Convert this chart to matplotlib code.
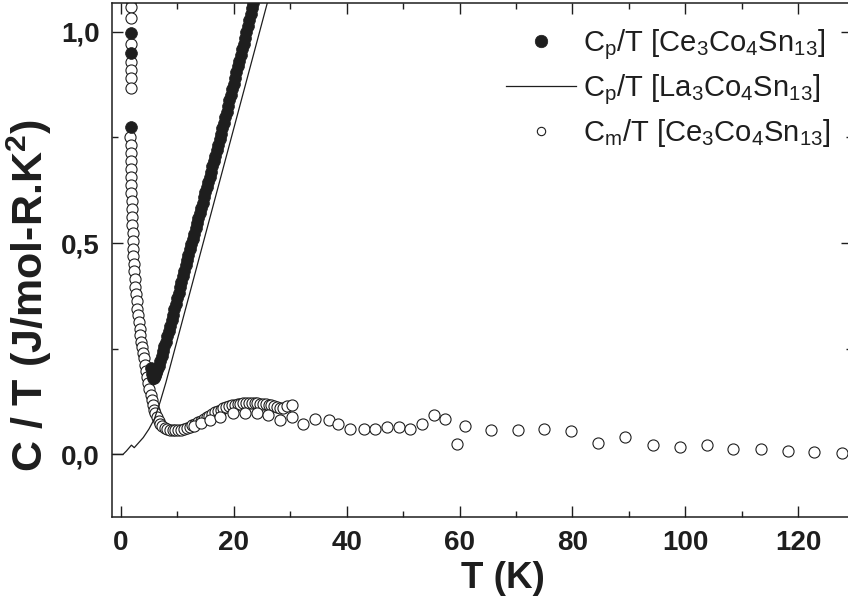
import numpy as np
import matplotlib
matplotlib.use('Agg')
import matplotlib.pyplot as plt
from matplotlib.ticker import MultipleLocator

plt.rcParams['font.family'] = ['Liberation Sans', 'DejaVu Sans']
plt.rcParams['mathtext.fontset'] = 'custom'
plt.rcParams['mathtext.rm'] = 'Liberation Sans'
plt.rcParams['mathtext.it'] = 'Liberation Sans:italic'
plt.rcParams['mathtext.bf'] = 'Liberation Sans:bold'

INK = '#1e1e1e'

# Cp/T of Ce3Co4Sn13 (filled circles)
t_ce = [1.8, 1.8, 1.8,
        5.3, 5.5, 5.7, 5.9, 6.1, 6.3, 6.5, 6.75, 7.0, 7.25, 7.5, 7.75, 8.0, 8.25, 8.5, 8.75,
        9.0, 9.25, 9.5, 9.75, 10.0, 10.25, 10.5, 10.75, 11.0, 11.25, 11.5, 11.75, 12.0,
        12.25, 12.5, 12.75, 13.0, 13.25, 13.5, 13.75, 14.0, 14.25, 14.5, 14.75, 15.0,
        15.25, 15.5, 15.75, 16.0, 16.25, 16.5, 16.75, 17.0, 17.25, 17.5, 17.75, 18.0,
        18.25, 18.5, 18.75, 19.0, 19.25, 19.5, 19.75, 20.0, 20.25, 20.5, 20.75, 21.0,
        21.25, 21.5, 21.75, 22.0, 22.25, 22.5, 22.75, 23.0, 23.25, 23.5, 23.75, 24.0]
cp_ce = [0.996, 0.949, 0.775,
         0.205, 0.190, 0.181, 0.181, 0.186, 0.192, 0.200, 0.210, 0.222, 0.233, 0.244, 0.256,
         0.267, 0.280, 0.292, 0.305, 0.317, 0.330, 0.343, 0.356, 0.370, 0.383, 0.396,
         0.409, 0.422, 0.435, 0.447, 0.460, 0.472, 0.485, 0.497, 0.510, 0.522, 0.535,
         0.547, 0.559, 0.571, 0.584, 0.596, 0.608, 0.620, 0.632, 0.644, 0.657, 0.669,
         0.682, 0.694, 0.707, 0.720, 0.733, 0.746, 0.759, 0.772, 0.785, 0.798, 0.811,
         0.824, 0.838, 0.851, 0.864, 0.877, 0.891, 0.904, 0.918, 0.931, 0.945, 0.958,
         0.972, 0.986, 0.999, 1.013, 1.027, 1.041, 1.055, 1.069, 1.083, 1.097]

# Cp/T of La3Co4Sn13 (line)
t_la = [-1.5, 0.4, 1.0, 1.9, 2.4, 3.0, 4.0, 5.0, 6.0, 7.0, 8.0, 9.0, 10.0, 12.0, 14.0,
        16.0, 18.0, 20.0, 22.0, 24.0, 26.0, 27.0]
cp_la = [0.0, 0.0, 0.008, 0.022, 0.016, 0.025, 0.040, 0.060, 0.085, 0.125, 0.170, 0.220,
         0.270, 0.370, 0.470, 0.570, 0.670, 0.770, 0.870, 0.970, 1.070, 1.120]

# Cm/T of Ce3Co4Sn13 (open circles)
t_cm = [1.8, 1.8, 1.8, 1.8, 1.8, 1.8, 1.8, 1.8,
        1.7, 1.75, 1.8, 1.8, 1.85, 1.85, 1.9, 1.9, 1.95, 2.0, 2.0, 2.05, 2.1, 2.15, 2.2,
        2.25, 2.3, 2.4, 2.5, 2.6, 2.7, 2.8, 2.95, 3.1, 3.2, 3.35, 3.5, 3.65, 3.8, 3.95,
        4.1, 4.3, 4.5, 4.7, 4.9, 5.1, 5.3, 5.5, 5.7, 5.9, 6.1, 6.4, 6.7, 7.0, 7.4, 7.8,
        8.2, 8.7, 9.2, 9.7, 10.2, 10.7, 11.2, 11.7, 12.2, 12.7, 13.2, 13.7, 14.2, 14.7,
        15.2, 15.7, 16.2, 16.7, 17.2, 17.7, 18.2, 18.7, 19.2, 19.7, 20.2, 20.7, 21.2,
        21.7, 22.2, 22.7, 23.2, 23.7, 24.2, 24.7, 25.2, 25.7, 26.2, 26.7, 27.2, 27.7,
        28.2, 28.8, 29.4, 30.3,
        13.0, 14.2, 15.8, 17.6, 19.9, 22.0, 24.1, 26.1, 28.2, 30.3,
        32.3, 34.4, 36.8, 38.5, 40.6, 43.0, 45.0, 47.1, 49.2, 51.2, 53.3, 55.4, 57.4,
        59.5, 60.9, 65.6, 70.3, 75.0, 79.7, 84.6, 89.3, 94.2, 99.0, 103.8, 108.5, 113.3,
        118.1, 122.8, 127.7]
cm_ce = [1.075, 1.059, 1.032, 0.972, 0.929, 0.909, 0.890, 0.866,
         0.752, 0.733, 0.714, 0.695, 0.676, 0.657, 0.638, 0.619, 0.600, 0.581, 0.562,
         0.543, 0.524, 0.505, 0.487, 0.469, 0.451, 0.433, 0.415, 0.397, 0.379, 0.362,
         0.345, 0.329, 0.313, 0.297, 0.282, 0.267, 0.253, 0.240, 0.228, 0.212, 0.198,
         0.184, 0.170, 0.155, 0.140, 0.128, 0.116, 0.106, 0.097, 0.088, 0.080, 0.073,
         0.067, 0.063, 0.060, 0.058, 0.057, 0.057, 0.058, 0.059, 0.061, 0.063, 0.066,
         0.069, 0.072, 0.076, 0.080, 0.084, 0.088, 0.092, 0.096, 0.100, 0.103, 0.106,
         0.109, 0.112, 0.114, 0.116, 0.118, 0.119, 0.120, 0.121, 0.121, 0.121, 0.121,
         0.121, 0.121, 0.120, 0.120, 0.119, 0.118, 0.116, 0.114, 0.112, 0.110, 0.111,
         0.114, 0.117,
         0.068, 0.074, 0.082, 0.089, 0.097, 0.098, 0.097, 0.093, 0.081, 0.089,
         0.073, 0.085, 0.081, 0.073, 0.061, 0.061, 0.061, 0.065, 0.065, 0.061, 0.073,
         0.093, 0.085, 0.024, 0.067, 0.058, 0.058, 0.061, 0.056, 0.028, 0.042, 0.022,
         0.017, 0.022, 0.0125, 0.0125, 0.0085, 0.0047, 0.0024]

x_ticks = [0, 20, 40, 60, 80, 100, 120]
y_ticks = [0.0, 0.5, 1.0]
y_tick_labels = ['0,0', '0,5', '1,0']

labels = [r'C$_\mathrm{p}$/T [Ce$_\mathrm{3}$Co$_\mathrm{4}$Sn$_\mathrm{13}$]',
          r'C$_\mathrm{p}$/T [La$_\mathrm{3}$Co$_\mathrm{4}$Sn$_\mathrm{13}$]',
          r'C$_\mathrm{m}$/T [Ce$_\mathrm{3}$Co$_\mathrm{4}$Sn$_\mathrm{13}$]']

fig = plt.figure(figsize=(8.48, 5.97), dpi=100)
ax = fig.add_axes([112 / 848, 80 / 597, 740 / 848, 514 / 597])

open_pts, = ax.plot(t_cm, cm_ce, 'o', ms=8, mfc='white', mec=INK, mew=0.8, zorder=2)
filled_pts, = ax.plot(t_ce, cp_ce, 'o', ms=8.5, mfc=INK, mec=INK, mew=0.5, zorder=3)
la_line, = ax.plot(t_la, cp_la, '-', color=INK, lw=0.9, zorder=4)

ax.set_xlim(-1.54, 129.5)
ax.set_ylim(-0.148, 1.068)

ax.set_xticks(x_ticks)
ax.set_yticks(y_ticks)
ax.set_yticklabels(y_tick_labels)
ax.xaxis.set_minor_locator(MultipleLocator(10))
ax.yaxis.set_minor_locator(MultipleLocator(0.25))
ax.tick_params(which='both', direction='in', top=True, right=True, width=1, color=INK)
ax.tick_params(which='major', length=7.7)
ax.tick_params(which='minor', length=4)
ax.tick_params(axis='x', which='major', pad=9)
ax.tick_params(axis='y', which='major', pad=9)
for lab in ax.get_xticklabels() + ax.get_yticklabels():
    lab.set_fontsize(20)
    lab.set_fontweight('bold')
    lab.set_color(INK)
for sp in ax.spines.values():
    sp.set_linewidth(1.1)
    sp.set_color(INK)

ax.set_xlabel('T (K)', fontsize=26.5, fontweight='bold', color=INK)
ax.xaxis.set_label_coords(0.528, -0.085)
ax.set_ylabel(r'C / T (J/mol-R.K$^\mathbf{2}$)', fontsize=31, fontweight='bold', color=INK)
ax.yaxis.set_label_coords(-0.078, 0.43)

leg = ax.legend([filled_pts, la_line, open_pts], labels, loc='upper left',
                bbox_to_anchor=((506 - 112) / 740, (517 - 27) / 514), frameon=False,
                fontsize=21, handlelength=2.4, handletextpad=0.25, labelspacing=0.36,
                borderpad=0, borderaxespad=0)
for t in leg.get_texts():
    t.set_color(INK)
leg.legend_handles[0].set_markersize(9)
leg.legend_handles[2].set_markersize(6)

fig.savefig('out.png', dpi=100)
